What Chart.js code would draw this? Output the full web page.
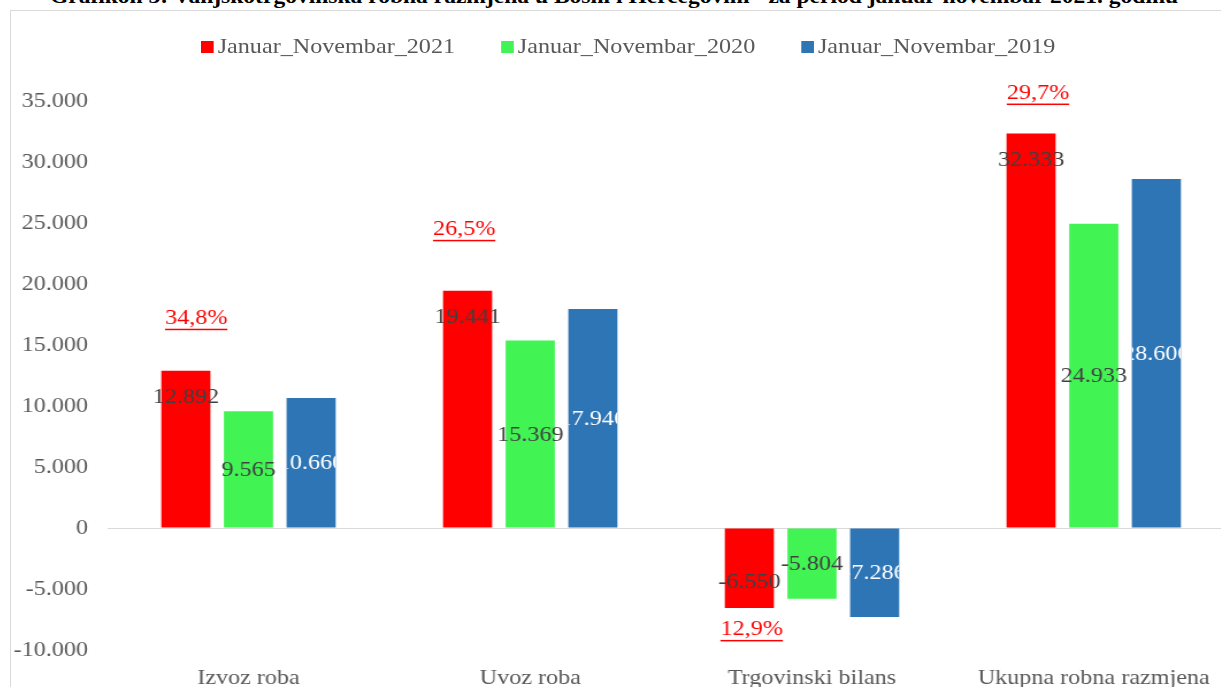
<!DOCTYPE html>
<html>
<head>
<meta charset="utf-8">
<script src="https://cdn.jsdelivr.net/npm/chart.js@4.4.1/dist/chart.umd.min.js"></script>
<style>
body{margin:0;width:1221px;height:687px;overflow:hidden;background:#fff;position:relative;font-family:"Liberation Serif",serif;}
#title{position:absolute;left:0;width:1228px;top:-14px;text-align:center;font-weight:bold;font-size:21px;line-height:21px;white-space:nowrap;color:#000;transform:scaleX(1.12);transform-origin:50% 0;}
#frame{position:absolute;left:10px;top:10px;width:1240px;height:690px;border-left:1px solid #d9d9d9;border-top:1px solid #d9d9d9;}
/* the source picture is stretched ~1.15x horizontally */
#wrap{position:absolute;left:0;top:0;width:1078px;height:690px;transform:scaleX(1.15);transform-origin:0 0;}
#legend{position:absolute;left:201px;top:36px;height:21px;width:900px;transform:scaleX(1.15);transform-origin:0 0;font-size:21px;line-height:21px;color:#595959;white-space:nowrap;}
#legend .item{position:absolute;top:0;display:flex;align-items:center;}
#legend .box{width:10.5px;height:12px;margin-right:4px;}
</style>
</head>
<body>
<div id="title">Grafikon 3: Vanjskotrgovinska robna razmjena u Bosni i Hercegovini" za period januar-novembar 2021. godinu</div>
<div id="frame"><div id="wrap"><canvas id="tradeChart"></canvas></div></div>
<div id="legend"></div>
<script>
// podaci (mil. KM)
const categories = ["Izvoz roba","Uvoz roba","Trgovinski bilans","Ukupna robna razmjena"];
const seriesNames = ["Januar_Novembar_2021","Januar_Novembar_2020","Januar_Novembar_2019"];
const values2021 = [12892,19441,-6550,32333];
const values2020 = [9565,15369,-5804,24933];
const values2019 = [10660,17946,-7286,28606];
const growth = ["34,8%","26,5%","12,9%","29,7%"];
const yMin = -10000, yMax = 35000, yStep = 5000;

const colors = ["#ff0000","#41f453","#2e75b6"];
const FONT = '21px "Liberation Serif"';

function fmt(v){
const s = Math.abs(v).toString().replace(/\B(?=(\d{3})+(?!\d))/g,".");
return (v<0?"-":"")+s;
}

// legenda
const legend = document.getElementById("legend");
seriesNames.forEach((name,i)=>{
const item = document.createElement("div");
item.className = "item";
item.style.left = (i*261)+"px";
item.innerHTML = '<span class="box" style="background:'+colors[i]+'"></span>'+name;
legend.appendChild(item);
});

const valueLabels = {
id:"valueLabels",
afterDatasetsDraw(chart){
const ctx = chart.ctx;
ctx.save();
ctx.font = FONT;
ctx.textAlign = "center";
ctx.textBaseline = "middle";
chart.data.datasets.forEach((ds,di)=>{
chart.getDatasetMeta(di).data.forEach((bar,i)=>{
const v = ds.data[i];
const txt = fmt(v);
let y;
if(di===0){
y = v>=0 ? bar.y+27 : bar.y-25;
}else{
y = (bar.y+bar.base)/2+1;
}
if(di===2){
// white label, cut to the bar like in the source
ctx.save();
ctx.beginPath();
ctx.rect(bar.x-bar.width/2, Math.min(bar.y,bar.base), bar.width, Math.abs(bar.base-bar.y));
ctx.clip();
ctx.fillStyle = "#ffffff";
ctx.fillText(txt,bar.x,y);
ctx.restore();
}else{
ctx.fillStyle = "#404040";
ctx.fillText(txt,bar.x,y);
}
});
});
ctx.restore();
}
};

const growthLabels = {
id:"growthLabels",
afterDatasetsDraw(chart,args,opts){
const ctx = chart.ctx;
const meta = chart.getDatasetMeta(0);
ctx.save();
ctx.font = FONT;
ctx.textAlign = "center";
ctx.textBaseline = "middle";
ctx.fillStyle = "#ff0000";
growth.forEach((t,i)=>{
const bar = meta.data[i];
const x = bar.x+opts.dx[i];
const y = bar.y+opts.dy[i];
ctx.fillText(t,x,y);
const w = ctx.measureText(t).width;
ctx.fillRect(x-w/2,y+10,w,1.5);
});
ctx.restore();
}
};

new Chart(document.getElementById("tradeChart"),{
type:"bar",
data:{
labels:categories,
datasets:[
{label:seriesNames[0],data:values2021,backgroundColor:colors[0]},
{label:seriesNames[1],data:values2020,backgroundColor:colors[1]},
{label:seriesNames[2],data:values2019,backgroundColor:colors[2]}
]
},
options:{
responsive:true,
maintainAspectRatio:false,
animation:false,
categoryPercentage:0.667,
barPercentage:0.784,
layout:{
padding:{top:90,right:14,left:0,bottom:0}
},
plugins:{
legend:{display:false},
tooltip:{enabled:false},
growthLabels:{
dx:[9,-3,2,6],
dy:[-52,-61,22,-40]
}
},
scales:{
x:{
grid:{display:false},
border:{display:false},
ticks:{
color:"#595959",
padding:8,
font:{family:"Liberation Serif",size:21}
},
afterFit(scale){scale.height=51;}
},
y:{
min:yMin,
max:yMax,
border:{display:false},
grid:{
drawTicks:false,
color:c=>c.tick && c.tick.value===0 ? "#d9d9d9" : "rgba(0,0,0,0)",
lineWidth:1
},
ticks:{
stepSize:yStep,
color:"#595959",
padding:17,
font:{family:"Liberation Serif",size:21},
callback:v=>fmt(v)
},
afterFit(scale){scale.width=84;}
}
}
},
plugins:[valueLabels,growthLabels]
});
</script>
</body>
</html>
